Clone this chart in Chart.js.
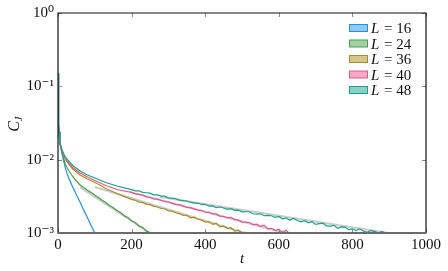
<!DOCTYPE html>
<html><head><meta charset="utf-8">
<script src="https://cdn.jsdelivr.net/npm/chart.js@4/dist/chart.umd.min.js"></script>
<style>html,body{margin:0;padding:0;background:#fff;}</style>
</head><body>
<canvas id="c" width="448" height="271"></canvas>
<script>
// ---- data ----
const seriesNames = ["L = 16", "L = 24", "L = 36", "L = 40", "L = 48"];
const seriesL = ["16", "24", "36", "40", "48"];
const colors = ["#1f93e6", "#4aa04a", "#a8901e", "#e9548e", "#14a38b"];

const tL16 = [0,1,2,3,5,8,12,16,20,25,30,40,50,60,70,80,90,100,105];
const cL16 = [0.15,0.05,0.03,0.024,0.0169,0.0140,0.0112,0.0093,0.0077,0.0064,0.0055,0.00423,0.00333,0.00262,0.00205,0.00163,0.00126,0.00100,0.00090];

const tL24 = [0,1,2,3,5,10,15,20,25,30,40,50,60,70,80,90,100,110,120,130,140,150,160,170,180,190,200,210,220,230,240,250,260];
const cL24 = [0.15,0.05,0.03,0.024,0.0169,0.01355,0.01054,0.00859,0.00769,0.00701,0.0059,0.00512,0.00451,0.00418,0.00384,0.00356,0.00327,0.00304,0.00279,0.00260,0.00237,0.00222,0.00202,0.00190,0.00172,0.00163,0.00146,0.00139,0.00124,0.00119,0.00106,0.00101,0.00091];

const tL36 = [0,1,2,3,5,10,15,20,30,40,60,80,100,114,130,160,200,210,220,230,240,250,260,270,280,290,300,310,320,330,340,350,360,370,380,390,400,410,420,430,440,450,460,470,480,490,500,510,520,530,540];
const cL36 = [0.15,0.05,0.03,0.024,0.0169,0.01355,0.0114,0.01005,0.00859,0.00746,0.00618,0.00545,0.00488,0.00451,0.00405,0.00346,0.00287,
  0.00279,0.00264,0.00261,0.00246,0.00244,0.00231,0.00226,0.00216,0.00214,0.00200,0.00199,0.00189,0.00184,0.00174,0.00174,0.00161,0.00164,0.00154,0.00150,0.00141,
  0.00143,0.00131,0.00136,0.00121,0.00125,0.00115,0.00118,0.00106,0.00109,0.00101,0.00102,0.00095,0.00097,0.00090];

const tL40 = [0,1,2,3,5,10,15,20,30,40,60,80,100,130,160,200,210,220,230,240,250,260,270,280,290,300,310,320,330,340,350,360,370,380,390,400,410,420,430,440,450,460,470,480,490,500,510,520,530,540,550,560,570,580,590,600,610,620,630,640,650,660];
const cL40 = [0.15,0.05,0.03,0.024,0.0169,0.01376,0.01177,0.01037,0.00887,0.00782,0.00658,0.0058,0.0052,0.00444,0.00392,
  0.00358,0.00341,0.00336,0.00329,0.00311,0.00305,0.00292,0.00290,0.00280,0.00268,0.00267,0.00254,0.00246,0.00242,0.00234,0.00223,0.00222,0.00213,0.00205,0.00204,
  0.00192,0.00193,0.00182,0.00182,0.00170,0.00169,0.00161,0.00163,0.00152,0.00151,0.00141,0.00141,0.00139,0.00130,0.00132,0.00123,0.00128,0.00114,0.00116,0.00108,
  0.00112,0.00102,0.00109,0.00097,0.00099,0.00102,0.00090];

const tL48 = [0,1,2,3,5,10,15,20,30,40,60,80,100,130,160,200,210,220,230,240,250,260,270,280,290,300,310,320,330,340,350,360,370,380,390,400,410,420,430,440,450,460,470,480,490,500,510,520,530,540,550,560,570,580,590,600,610,620,630,640,650,660,670,680,690,700,710,720,730,740,750,760,770,780,790,800,810,820,830,840,850,860,870,880,890,900,910];
const cL48 = [0.15,0.05,0.03,0.024,0.0169,0.01398,0.01214,0.01087,0.00944,0.00833,0.00701,0.00618,0.00562,0.00488,0.00437,
  0.00390,0.00376,0.00376,0.00358,0.00354,0.00349,0.00332,0.00331,0.00319,0.00318,0.00302,0.00299,0.00294,0.00280,0.00277,0.00273,0.00263,0.00255,0.00256,0.00245,
  0.00246,0.00232,0.00234,0.00221,0.00226,0.00219,0.00210,0.00215,0.00204,0.00205,0.00194,0.00195,0.00195,0.00183,0.00181,0.00183,0.00172,0.00174,0.00172,0.00163,
  0.00168,0.00156,0.00160,0.00150,0.00158,0.00148,0.00142,0.00147,0.00138,0.00143,0.00131,0.00134,0.00136,0.00125,0.00124,0.00127,0.00116,0.00121,0.00120,0.00111,
  0.00114,0.00108,0.00114,0.00106,0.00102,0.00108,0.00105,0.00100,0.00105,0.00099,0.00097,0.00094];

// grey exponential fit lines (start/end) for L=24,36,40,48
const fitT = [[60,250],[100,508],[196,617],[277,898]];
const fitC = [[0.00424,0.001],[0.00424,0.001],[0.00362,0.001],[0.0031,0.001]];

const xTicks = [0,200,400,600,800,1000];
const yTicks = [0.001,0.01,0.1,1];
const yTickLabels = ["10\u207B\u00B3","10\u207B\u00B2","10\u207B\u00B9","10\u2070"];

// ---- chart ----
const FONT = '"Liberation Serif","DejaVu Serif",serif';
const allT = [tL16,tL24,tL36,tL40,tL48];
const allC = [cL16,cL24,cL36,cL40,cL48];
const toXY = (ts,cs)=>ts.map((t,i)=>({x:t,y:cs[i]}));

const datasets = [];
for (let i=0;i<5;i++){
  datasets.push({label:seriesNames[i], data:toXY(allT[i],allC[i]), borderColor:colors[i],
    borderWidth:1.2, pointRadius:0, tension:0, fill:false, order:5-i});
}
for (let k=0;k<fitT.length;k++){
  datasets.push({label:'fit', data:toXY(fitT[k],fitC[k]), borderColor:'rgba(185,185,185,0.75)',
    borderWidth:2.2, pointRadius:0, tension:0, fill:false, order:10});
}

function withAlpha(hex,a){
  const r=parseInt(hex.slice(1,3),16),g=parseInt(hex.slice(3,5),16),b=parseInt(hex.slice(5,7),16);
  return `rgba(${r},${g},${b},${a})`;
}

const decor = {
  id:'decor',
  afterDraw(chart){
    const ctx=chart.ctx, a=chart.chartArea, xs=chart.scales.x, ys=chart.scales.y;
    ctx.save();
    // inward ticks
    ctx.strokeStyle='#888'; ctx.lineWidth=1;
    ctx.beginPath();
    xTicks.forEach(v=>{ const px=Math.round(xs.getPixelForValue(v))+0.5;
      ctx.moveTo(px,a.bottom); ctx.lineTo(px,a.bottom-4);
      ctx.moveTo(px,a.top); ctx.lineTo(px,a.top+4); });
    yTicks.forEach(v=>{ const py=Math.round(ys.getPixelForValue(v))+0.5;
      ctx.moveTo(a.left,py); ctx.lineTo(a.left+4,py);
      ctx.moveTo(a.right,py); ctx.lineTo(a.right-4,py); });
    ctx.stroke();
    // frame
    ctx.strokeStyle='#111'; ctx.lineWidth=1.2;
    ctx.beginPath();
    ctx.moveTo(a.left,a.bottom); ctx.lineTo(a.left,a.top); ctx.lineTo(a.right,a.top); ctx.lineTo(a.right,a.bottom);
    ctx.stroke();
    ctx.strokeStyle='#6a6a6a'; ctx.lineWidth=2;
    ctx.beginPath(); ctx.moveTo(a.left-0.5,a.bottom); ctx.lineTo(a.right+0.5,a.bottom); ctx.stroke();
    // x title
    ctx.fillStyle='#111';
    ctx.font='italic 15px '+FONT; ctx.textAlign='center'; ctx.textBaseline='alphabetic';
    ctx.fillText('t', (a.left+a.right)/2, 263);
    // y title C_J
    ctx.save();
    ctx.translate(19,124); ctx.rotate(-Math.PI/2);
    ctx.textAlign='left';
    ctx.font='italic 16px '+FONT; const wc=ctx.measureText('C').width;
    ctx.font='italic 11px '+FONT; const wj=ctx.measureText('J').width;
    const sx=-(wc+wj)/2;
    ctx.font='italic 16px '+FONT; ctx.fillText('C',sx,0);
    ctx.font='italic 11px '+FONT; ctx.fillText('J',sx+wc-0.5,3);
    ctx.restore();
    // legend
    for(let i=0;i<5;i++){
      const y=28+i*15.5;
      ctx.fillStyle=withAlpha(colors[i],0.5);
      ctx.fillRect(349.5,y-3.5,18,7);
      ctx.strokeStyle=colors[i]; ctx.lineWidth=1;
      ctx.strokeRect(349.5,y-3.5,18,7);
      ctx.fillStyle='#111'; ctx.textAlign='left'; ctx.textBaseline='alphabetic';
      ctx.font='italic 15px '+FONT; ctx.fillText('L',371,y+5);
      const wl=ctx.measureText('L').width;
      ctx.font='15px '+FONT; ctx.fillText(' = '+seriesL[i],371+wl+1,y+5);
    }
    ctx.restore();
  }
};

new Chart(document.getElementById('c'),{
  type:'line',
  data:{datasets},
  options:{
    responsive:false, animation:false, devicePixelRatio:1,
    layout:{padding:{top:13,right:22,left:0,bottom:0}},
    plugins:{legend:{display:false},tooltip:{enabled:false}},
    scales:{
      x:{type:'linear',min:0,max:1000,
        grid:{display:false,drawTicks:false}, border:{display:false},
        afterBuildTicks(s){ s.ticks = xTicks.map(v=>({value:v})); },
        ticks:{padding:3,color:'#111',font:{family:FONT,size:15},maxRotation:0,autoSkip:false,
          callback:(v)=>String(v)},
        afterFit(s){ s.height=38; }},
      y:{type:'logarithmic',min:0.001,max:1,
        grid:{display:false,drawTicks:false}, border:{display:false},
        afterBuildTicks(s){ s.ticks = yTicks.map(v=>({value:v})); },
        ticks:{padding:4,color:'#111',font:{family:FONT,size:15},autoSkip:false,
          callback:(v)=>{ const i=yTicks.findIndex(t=>Math.abs(t-v)/t<1e-6); return i>=0?yTickLabels[i]:''; }},
        afterFit(s){ s.width=58; }}
    }
  },
  plugins:[decor]
});
</script>
</body></html>
